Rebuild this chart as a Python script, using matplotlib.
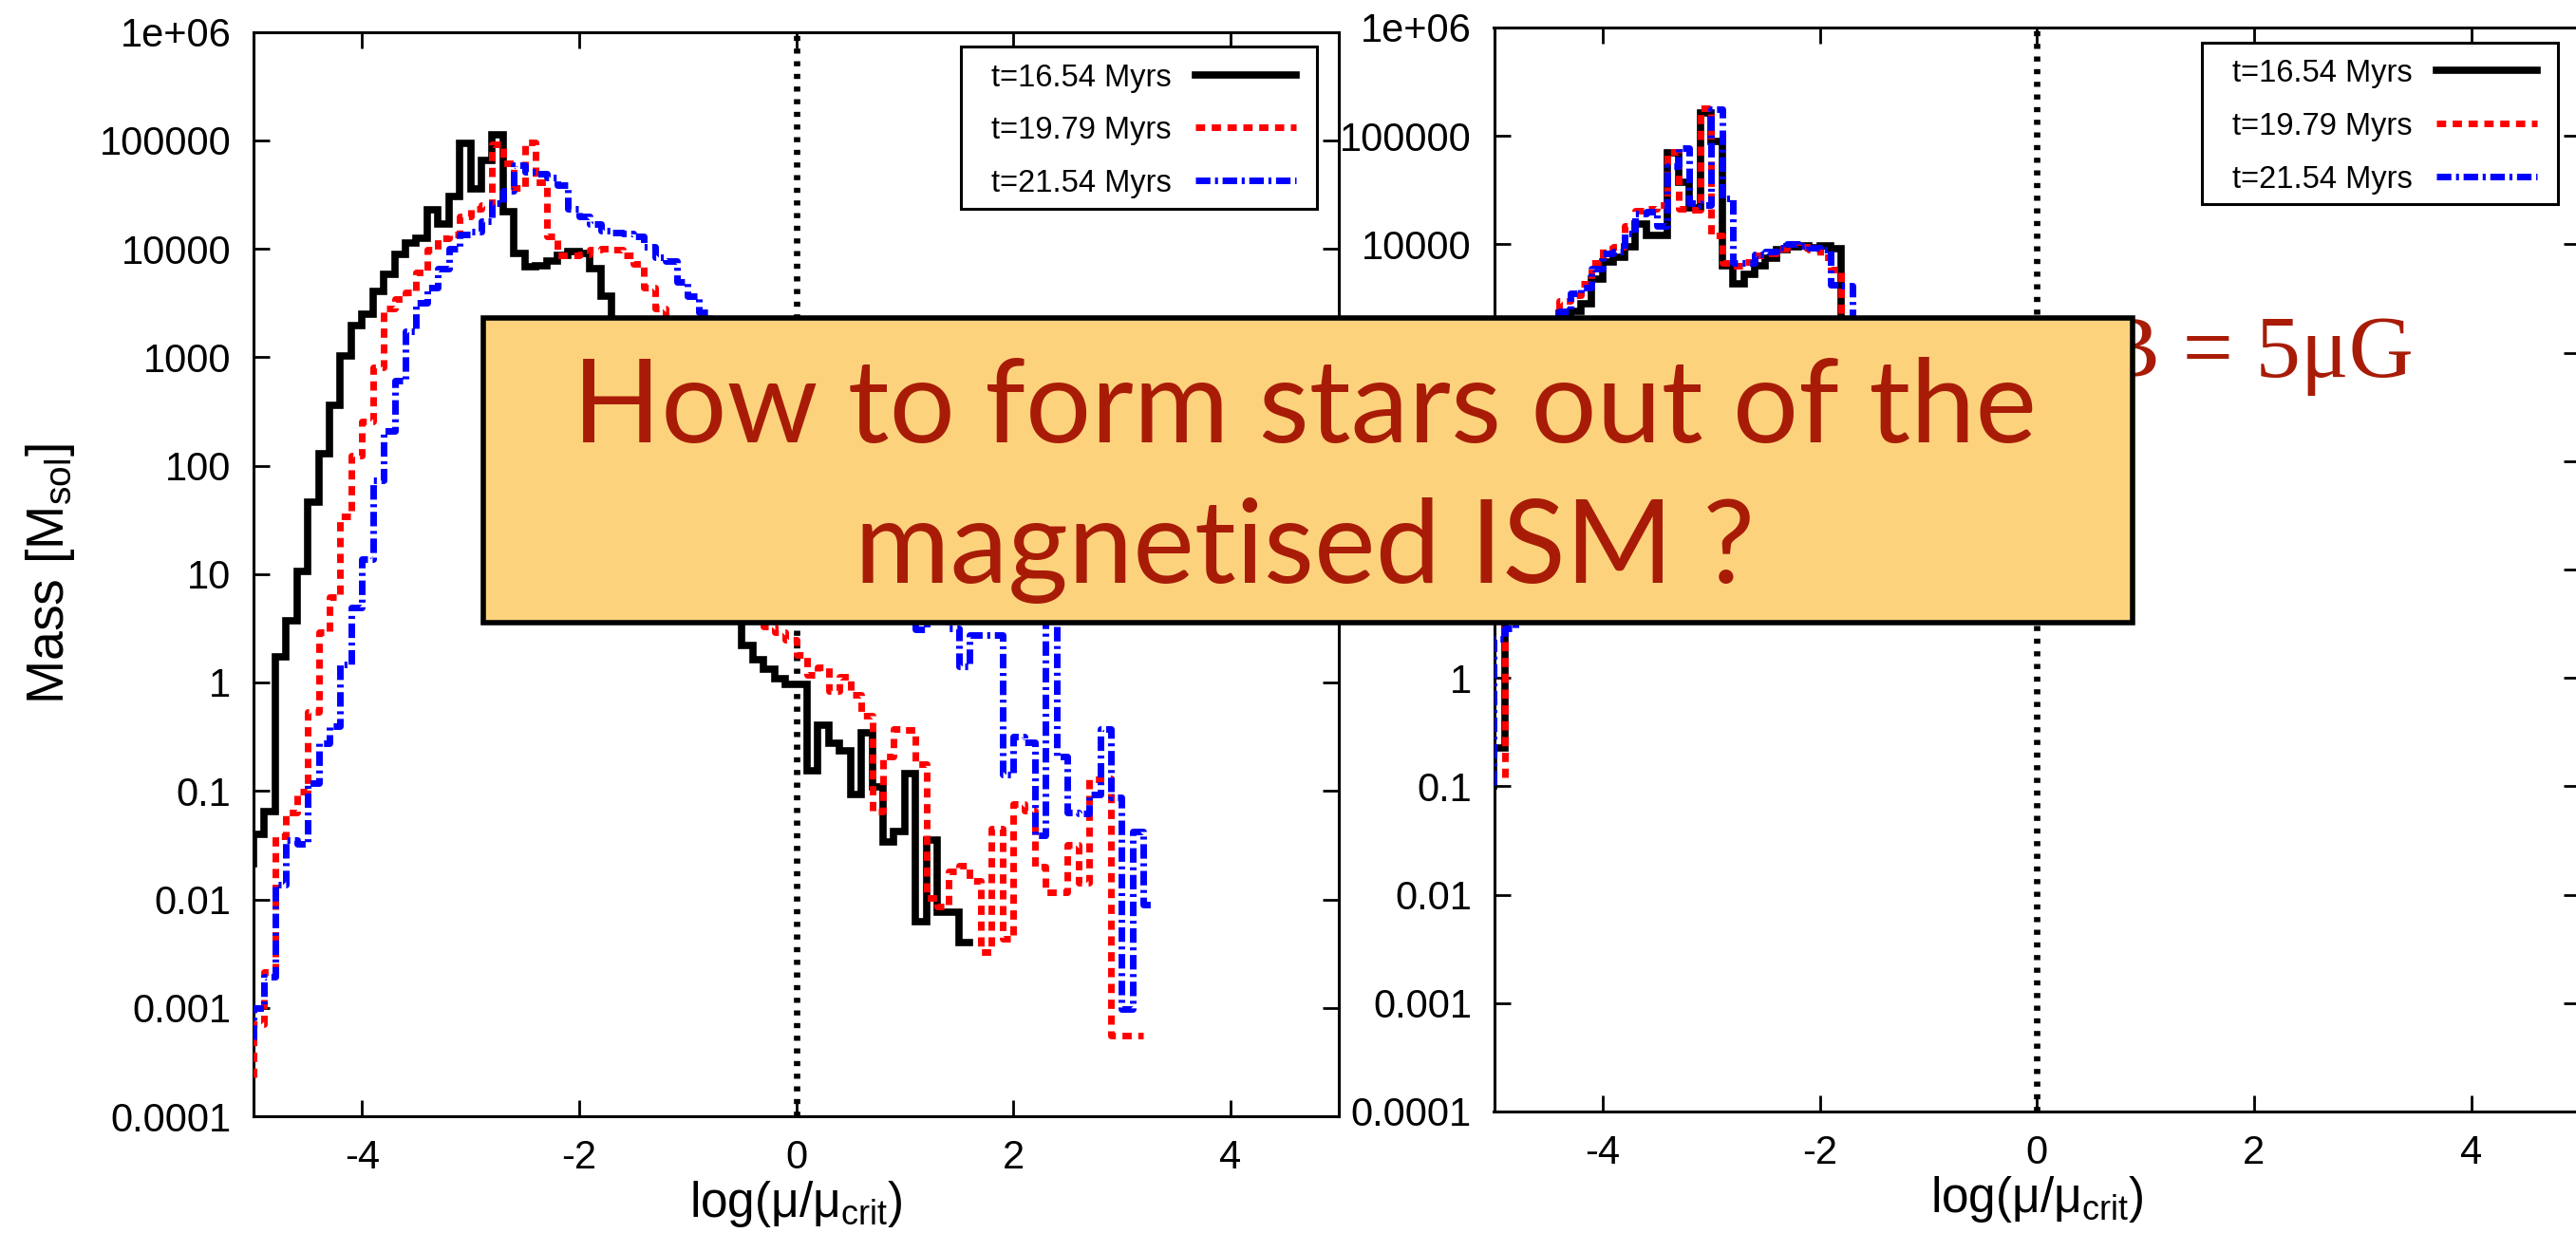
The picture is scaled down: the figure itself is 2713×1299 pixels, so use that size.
import numpy as np
import matplotlib.pyplot as plt
from matplotlib.patches import Rectangle
from matplotlib.ticker import NullLocator

plt.rcParams['font.family'] = ['Liberation Sans', 'DejaVu Sans']
plt.rcParams['mathtext.fontset'] = 'custom'
plt.rcParams['mathtext.rm'] = 'Liberation Sans'
plt.rcParams['mathtext.it'] = 'Liberation Sans:italic'

# mass histograms in 0.1 dex bins of log(mu/mu_crit), stored as log10(M / M_sol)
# first entry of each list is the level at the starting edge, then one value per bin
bin_width = 0.1
times = ['t=16.54 Myrs', 't=19.79 Myrs', 't=21.54 Myrs']

left_start = [-5.0, -5.0, -5.0]
left_black = [-1.67,
              -1.40, -1.19, 0.24, 0.57, 1.02, 1.66, 2.11, 2.56, 3.01, 3.29,
              3.40, 3.61, 3.76, 3.95, 4.05, 4.10, 4.36, 4.23, 4.48, 4.97,
              4.55, 4.81, 5.05, 4.34, 3.96, 3.83, 3.84, 3.89, 3.94, 3.97,
              3.96, 3.82, 3.56, 3.20, 2.90, 2.60, 2.40, 2.10, 1.90, 1.70,
              1.50, 1.30, 1.10, 0.90, 0.70, 0.34, 0.21, 0.12, 0.035, -0.014,
              -0.014, -0.81, -0.39, -0.56, -0.63, -1.03, -0.46, -0.96, -1.47, -1.37,
              -0.84, -2.21, -1.45, -2.12, -2.12, -2.40]
left_red = [-3.64,
            -3.15, -2.67, -1.42, -1.20, -1.01, -0.27, 0.46, 0.79, 1.53, 2.09,
            2.41, 2.91, 3.45, 3.54, 3.60, 3.78, 3.99, 4.10, 4.13, 4.30,
            4.37, 4.40, 4.96, 4.79, 4.56, 4.98, 4.61, 4.11, 3.94, 3.94,
            3.95, 3.99, 4.00, 3.99, 3.94, 3.86, 3.64, 3.45, 3.20, 2.90,
            2.60, 2.30, 2.00, 1.70, 1.40, 1.10, 0.75, 0.52, 0.46, 0.39,
            0.25, 0.07, 0.14, -0.08, 0.05, -0.11, -0.31, -1.19, -0.68, -0.43,
            -0.44, -0.75, -1.99, -2.07, -1.74, -1.69, -1.83, -2.49, -1.35, -2.36,
            -1.12, -1.18, -1.70, -1.93, -1.93, -1.50, -1.85, -0.89, -0.88, -3.26,
            -3.26, -3.26]
left_blue = [-3.29,
             -3.00, -2.71, -1.86, -1.45, -1.49, -0.93, -0.56, -0.40, 0.17, 0.69,
             1.14, 1.86, 2.32, 2.78, 3.24, 3.50, 3.64, 3.82, 4.00, 4.13,
             4.16, 4.25, 4.42, 4.53, 4.77, 4.71, 4.69, 4.66, 4.59, 4.37,
             4.30, 4.23, 4.17, 4.15, 4.14, 4.11, 4.02, 3.92, 3.89, 3.69,
             3.56, 3.41, 3.25, 3.10, 2.95, 2.80, 2.60, 2.40, 2.20, 2.00,
             1.80, 1.60, 1.40, 1.25, 1.10, 0.95, 0.85, 0.75, 0.70, 0.62,
             0.62, 0.49, 0.65, 0.65, 0.50, 0.15, 0.44, 0.44, 0.44, -0.85,
             -0.50, -0.55, -1.41, 0.70, -0.68, -1.20, -1.21, -1.03, -0.43, -1.06,
             -3.01, -1.37, -2.05]

right_start = [-5.0, -4.9, -5.0]
right_black = [-1.00,
               -0.65, 0.80, 1.50, 2.30, 2.80, 3.20, 3.36, 3.38, 3.45, 3.68,
               3.84, 3.88, 3.98, 4.19, 4.08, 4.08, 4.84, 4.57, 4.34, 5.21,
               4.95, 3.80, 3.64, 3.72, 3.80, 3.87, 3.95, 3.98, 3.99, 3.97,
               3.99, 3.96, 3.00, 2.00]
right_red = [-0.92,
             1.00, 1.80, 2.50, 2.90, 3.30, 3.48, 3.53, 3.64, 3.83,
             3.96, 3.98, 4.17, 4.31, 4.33, 4.36, 4.85, 4.33, 4.32, 5.26,
             4.08, 3.83, 3.80, 3.84, 3.90, 3.92, 3.96, 4.00, 3.98, 3.95,
             3.88, 3.77, 2.20]
right_blue = [-0.99,
              0.36, 0.46, 1.50, 2.30, 2.90, 3.20, 3.38, 3.55, 3.60, 3.78,
              3.92, 3.93, 4.10, 4.28, 4.30, 4.17, 4.72, 4.89, 4.38, 4.36,
              5.25, 4.42, 3.83, 3.83, 3.91, 3.93, 3.97, 4.00, 3.99, 3.97,
              3.95, 3.63, 3.62, 2.00]

ytick_vals = [1e-4, 1e-3, 1e-2, 1e-1, 1, 10, 100, 1e3, 1e4, 1e5, 1e6]
ytick_labels = ['0.0001', '0.001', '0.01', '0.1', '1', '10', '100', '1000',
                '10000', '100000', '1e+06']
xtick_vals = [-4, -2, 0, 2, 4]
xtick_labels = ['-4', '-2', '0', '2', '4']

styles = [
    dict(color='black', lw=5.5, linestyle='-', solid_joinstyle='miter'),
    dict(color='#ff0000', lw=5.0, linestyle=(0, (1.4, 1.0))),
    dict(color='#0000ff', lw=5.0, linestyle=(0, (2.2, 0.7, 0.45, 0.7))),
]

W, H = 2713, 1299
fig = plt.figure(figsize=(W / 100, H / 100), dpi=100, facecolor='white')
ax_l = fig.add_axes([267 / W, 1 - 1176 / H, 1143 / W, 1142.5 / H])
ax_r = fig.add_axes([1573.5 / W, 1 - 1171 / H, 1143.5 / W, 1142 / H])


def draw_key(ax):
    rows = [0.9604, 0.9118, 0.8628]
    ax.add_patch(Rectangle((0.652, 0.837), 0.328, 0.149, transform=ax.transAxes,
                           facecolor='white', edgecolor='black', lw=2.2, zorder=4))
    for y, st, lab in zip(rows, styles, times):
        ax.text(0.846, y, lab, transform=ax.transAxes, ha='right',
                va='center_baseline', fontsize=23.5, zorder=5)
        ax.plot([0.868, 0.961], [y, y], transform=ax.transAxes, zorder=5, **st)


def panel(ax, starts, series):
    for x0, logm, st in zip(starts, series, styles):
        logm = np.array(logm)
        edges = x0 + bin_width * np.arange(len(logm))
        ax.step(edges, 10 ** logm, where='pre', zorder=3, **st)
    ax.axvline(0, color='black', lw=4.8, linestyle=(0, (0.8, 1.2)), zorder=2)
    ax.set_yscale('log')
    ax.set_xlim(-5, 5)
    ax.set_ylim(1e-4, 1e6)
    ax.yaxis.set_minor_locator(NullLocator())
    ax.set_yticks(ytick_vals, ytick_labels)
    ax.set_xticks(xtick_vals, xtick_labels)
    ax.tick_params(direction='in', top=True, right=True, length=12, width=2,
                   labelsize=30, pad=17)
    for sp in ax.spines.values():
        sp.set_linewidth(2.2)
    ax.set_xlabel('log(μ/μ$_{\\rm crit}$)', fontsize=37, labelpad=2)
    draw_key(ax)


panel(ax_l, left_start, [left_black, left_red, left_blue])
panel(ax_r, right_start, [right_black, right_red, right_blue])
ax_l.set_ylabel('Mass [M$_{\\rm sol}$]', fontsize=40, labelpad=17)

# field strength note, partly hidden under the banner
fig.text(2542 / W, 1 - 397 / H, 'B = 5μG', ha='right', va='baseline',
         family=['Liberation Serif', 'DejaVu Serif'], fontsize=68,
         color='#a81c07', zorder=0.5)

# banner over both panels
fig.add_artist(Rectangle((509 / W, 1 - 656 / H), (2246 - 509) / W, (656 - 335) / H,
                         transform=fig.transFigure, facecolor='#fdd27d',
                         edgecolor='black', lw=4, zorder=5))
banner = ['How to form stars out of the', 'magnetised ISM ?']
for line, base in zip(banner, [466, 614]):
    fig.text(1374 / W, 1 - base / H, line, ha='center', va='baseline',
             family=['Lato', 'DejaVu Sans'], fontsize=88, color='#a81c07', zorder=6)

fig.savefig('out.png', dpi=100)
